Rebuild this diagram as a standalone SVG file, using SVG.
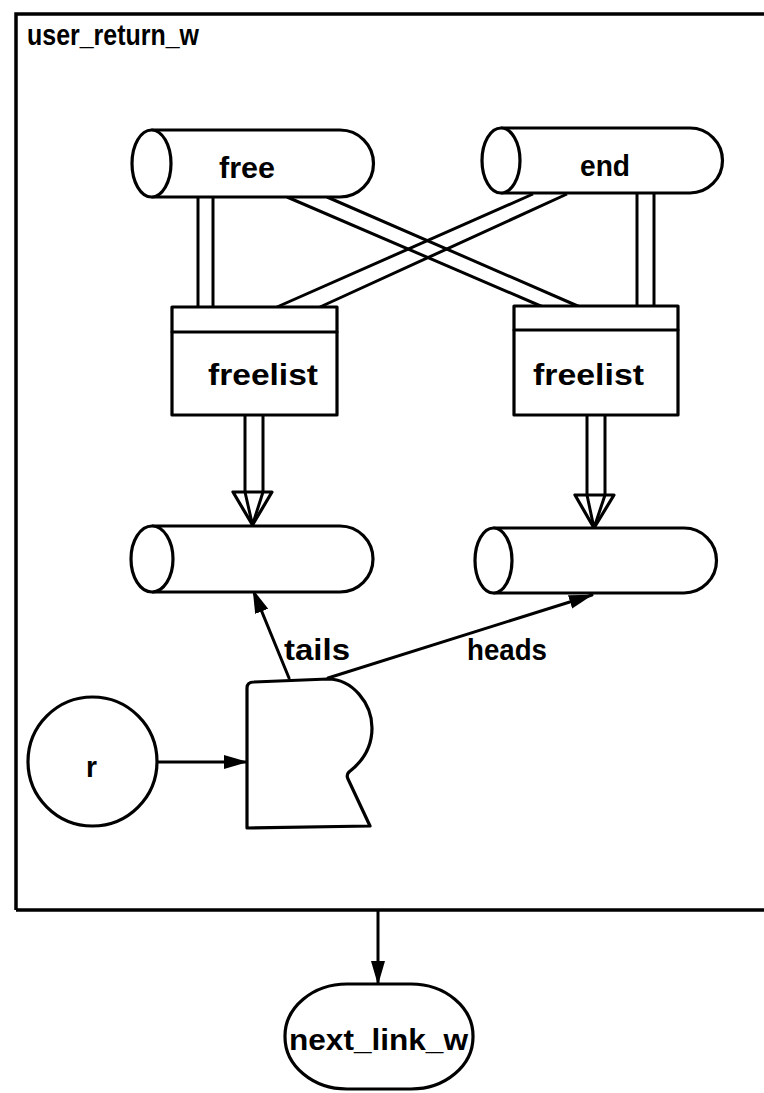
<svg xmlns="http://www.w3.org/2000/svg" width="764" height="1093" viewBox="0 0 764 1093">
<defs>
<style>
.s{fill:none;stroke:#000;stroke-width:3;stroke-linejoin:round;stroke-linecap:round}
.w{fill:#fff;stroke:#000;stroke-width:3.2;stroke-linejoin:round}
.t{font-family:"Liberation Sans",Arial,sans-serif;font-weight:bold;font-size:29px;fill:#000}
.d{fill:none;stroke:#000;stroke-width:3}
</style>
<marker id="ah2" markerWidth="24" markerHeight="16" refX="23" refY="8" orient="auto" markerUnits="userSpaceOnUse" viewBox="0 0 24 16">
<path d="M0,1 L24,8 L0,15 Z" fill="#000"/>
</marker>
</defs>
<rect width="764" height="1093" fill="#fff"/>

<g id="frame">
<path d="M16,910 L16,14 L770,14 M16,910 L770,910" fill="none" stroke="#000" stroke-width="3.5"/>
<text class="t" x="27" y="45" font-size="28" textLength="172" lengthAdjust="spacingAndGlyphs">user_return_w</text>
</g>

<g id="connectors">
<path class="d" d="M198,197 L198,307 M213,197 L213,307"/>
<path class="d" d="M637,193 L637,306 M654,193 L654,306"/>
<path class="d" d="M287,197 L543,307 M327,197 L580,307"/>
<path class="d" d="M533,194 L277,307 M567,194 L320,307"/>
<path class="d" d="M245,415 L245,492 M263,415 L263,492"/>
<path class="w" d="M233,492 L272,492 L252.5,525 Z" stroke-width="2.8"/>
<path class="d" d="M245,492 L252.5,525 L263,492"/>
<path class="d" d="M587,415 L587,495 M605,415 L605,495"/>
<path class="w" d="M575,495 L614,495 L594,528 Z" stroke-width="2.8"/>
<path class="d" d="M587,495 L594,528 L605,495"/>
<line class="s" x1="289" y1="678" x2="253" y2="590" stroke-width="2.8" marker-end="url(#ah2)"/>
<line class="s" x1="328" y1="678" x2="592" y2="595" stroke-width="3.2" marker-end="url(#ah2)"/>
<line class="s" x1="157" y1="762" x2="247" y2="762" stroke-width="4.5" marker-end="url(#ah2)"/>
<line class="s" x1="378" y1="911" x2="378" y2="984" stroke-width="2.8" marker-end="url(#ah2)"/>
<text class="t" x="284" y="660" textLength="66" lengthAdjust="spacingAndGlyphs">tails</text>
<text class="t" x="467" y="660" textLength="80" lengthAdjust="spacingAndGlyphs">heads</text>
</g>

<g id="free">
<path class="w" d="M151.5,130 L340,130 A33.5,33.5 0 0 1 340,197 L151.5,197"/>
<ellipse class="w" cx="151.5" cy="163.5" rx="19.5" ry="33.5"/>
<text class="t" x="219" y="178" textLength="56" lengthAdjust="spacingAndGlyphs">free</text>
</g>

<g id="end">
<path class="w" d="M501,128 L690,128 A32.5,32.5 0 0 1 690,193 L501,193"/>
<ellipse class="w" cx="501" cy="160.5" rx="19" ry="32.5"/>
<text class="t" x="580" y="176" textLength="50" lengthAdjust="spacingAndGlyphs">end</text>
</g>

<g id="freelist1">
<rect class="w" x="172" y="307" width="165" height="108"/>
<line class="s" x1="172" y1="332" x2="337" y2="332"/>
<text class="t" x="208" y="385" textLength="110" lengthAdjust="spacingAndGlyphs">freelist</text>
</g>

<g id="freelist2">
<rect class="w" x="514" y="306" width="164" height="109"/>
<line class="s" x1="514" y1="330" x2="678" y2="330"/>
<text class="t" x="533" y="385" textLength="111" lengthAdjust="spacingAndGlyphs">freelist</text>
</g>

<g id="store1">
<path class="w" d="M152,526 L340,526 A33,33 0 0 1 340,592 L152,592"/>
<ellipse class="w" cx="152" cy="559" rx="21" ry="33"/>
</g>

<g id="store2">
<path class="w" d="M493.5,528 L684,528 A32.5,32.5 0 0 1 684,593 L493.5,593"/>
<ellipse class="w" cx="493.5" cy="560.5" rx="18.5" ry="32.5"/>
</g>

<g id="r">
<circle class="w" cx="92.5" cy="761.5" r="64.5"/>
<text class="t" x="86" y="777" textLength="11" lengthAdjust="spacingAndGlyphs">r</text>
</g>

<g id="R">
<path class="w" d="M247,828 L247,688 Q247,682 254,682 L328,679 C352,679 372,703 372,728 C372,748 362,762 349,772 Q346,775 348,779 L370,826 Z"/>
</g>

<g id="next_link_w">
<rect class="w" x="285" y="984" width="188" height="105" rx="62" ry="52"/>
<text class="t" x="289" y="1050" textLength="179" lengthAdjust="spacingAndGlyphs">next_link_w</text>
</g>
</svg>
